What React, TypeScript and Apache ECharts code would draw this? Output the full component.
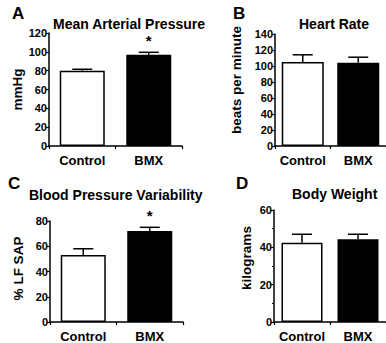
import React, { useEffect, useRef } from "react";
import * as echarts from "echarts";

const categories = ["Control", "BMX"];

const panelLetters = ["A", "B", "C", "D"];
const panelTitles = ["Mean Arterial Pressure", "Heart Rate", "Blood Pressure Variability", "Body Weight"];
const yNames = ["mmHg", "beats per minute", "% LF SAP", "kilograms"];
const yMax = [120, 140, 80, 60];

const mapMeans = [80, 97];
const mapErrors = [1.5, 2.5];
const hrMeans = [105, 104];
const hrErrors = [9, 7];
const bpvMeans = [53, 72];
const bpvErrors = [5, 3];
const bwMeans = [42.5, 44.3];
const bwErrors = [4.5, 2.7];

const meansByPanel = [mapMeans, hrMeans, bpvMeans, bwMeans];
const errorsByPanel = [mapErrors, hrErrors, bpvErrors, bwErrors];
const significance = [
  ["", "*"],
  ["", ""],
  ["", "*"],
  ["", ""],
];

const FONT = "'Liberation Sans', Arial, Helvetica, sans-serif";

const grids = [
  { left: 49, top: 33, width: 133, height: 113 },
  { left: 275, top: 34, width: 122, height: 112 },
  { left: 50, top: 221, width: 133, height: 102 },
  { left: 274, top: 210, width: 122, height: 113 },
];
const barWidths = [45, 42, 45, 41];
const nameGaps = [24, 32, 25, 21];
const namePads: number[][] = [
  [0, 0, 0, 0],
  [0, 0, 0, 20],
  [0, 0, 0, 6],
  [0, 0, 0, 16],
];
const titlePos = [
  { left: 53, top: 17 },
  { left: 299, top: 17 },
  { left: 29, top: 188 },
  { left: 292, top: 187 },
];
const letterPos = [
  { left: 12, top: 5 },
  { left: 233, top: 5 },
  { left: 8, top: 175 },
  { left: 236, top: 175 },
];

export default function App() {
  const ref = useRef<HTMLDivElement>(null);
  useEffect(() => {
    document.body.style.margin = "0";
    if (!ref.current) return;
    const chart = echarts.init(ref.current, undefined, { renderer: "svg" });

    const axisLine = { show: true, lineStyle: { color: "#000", width: 1.5 } };

    const option: any = {
      animation: false,
      backgroundColor: "#fff",
      title: [
        ...panelTitles.map((t, i) => ({
          text: t,
          left: titlePos[i].left,
          top: titlePos[i].top,
          padding: 0,
          textStyle: { fontFamily: FONT, fontWeight: "bold", fontSize: 14, color: "#000" },
        })),
        ...panelLetters.map((t, i) => ({
          text: t,
          left: letterPos[i].left,
          top: letterPos[i].top,
          padding: 0,
          textStyle: { fontFamily: FONT, fontWeight: "bold", fontSize: 17, color: "#000" },
        })),
      ],
      grid: grids.map((g) => ({ ...g, containLabel: false })),
      xAxis: grids.map((_, i) => ({
        type: "category",
        gridIndex: i,
        data: categories,
        boundaryGap: true,
        axisLine,
        axisTick: {
          show: true,
          length: 3,
          lineStyle: { color: "#000", width: 1.2 },
          interval: 0,
        },
        axisLabel: {
          interval: 0,
          hideOverlap: false,
          showMaxLabel: true,
          margin: 8,
          fontFamily: FONT,
          fontWeight: "bold",
          fontSize: 13,
          color: "#000",
        },
        splitLine: { show: false },
      })),
      yAxis: grids.map((_, i) => ({
        type: "value",
        gridIndex: i,
        min: 0,
        max: yMax[i],
        interval: 20,
        name: yNames[i],
        nameLocation: "middle",
        nameGap: nameGaps[i],
        nameRotate: 90,
        nameTextStyle: {
          fontFamily: FONT,
          fontWeight: "bold",
          fontSize: 13.5,
          color: "#000",
          padding: namePads[i],
        },
        axisLine,
        axisTick: { show: true, length: 3, lineStyle: { color: "#000", width: 1.2 } },
        minorTick: i === 3 ? { show: true, splitNumber: 2, length: 2, lineStyle: { color: "#000", width: 1 } } : { show: false },
        axisLabel: {
          margin: 2,
          fontFamily: FONT,
          fontWeight: "bold",
          fontSize: 11,
          color: "#000",
        },
        splitLine: { show: false },
      })),
      series: [
        ...meansByPanel.map((means, i) => ({
          type: "bar",
          xAxisIndex: i,
          yAxisIndex: i,
          barWidth: barWidths[i],
          data: means.map((v, j) => ({
            value: v,
            itemStyle: {
              color: j === 0 ? "#fff" : "#000",
              borderColor: "#000",
              borderWidth: 1.5,
            },
          })),
          z: 2,
        })),
        ...meansByPanel.map((means, i) => ({
          type: "custom",
          xAxisIndex: i,
          yAxisIndex: i,
          clip: false,
          z: 3,
          data: means.map((v, j) => [j, v, errorsByPanel[i][j]]),
          renderItem: (params: any, api: any) => {
            const idx = api.value(0);
            const mean = api.value(1);
            const err = api.value(2);
            const base = api.coord([idx, mean]);
            const top = api.coord([idx, mean + err]);
            const color = "#000";
            const star = significance[i][params.dataIndex];
            const children: any[] = [
              {
                type: "line",
                shape: { x1: base[0], y1: base[1], x2: top[0], y2: top[1] },
                style: { stroke: color, lineWidth: 1.5 },
              },
              {
                type: "line",
                shape: { x1: top[0] - 10, y1: top[1], x2: top[0] + 10, y2: top[1] },
                style: { stroke: color, lineWidth: 1.5 },
              },
            ];
            if (star) {
              children.push({
                type: "text",
                x: top[0],
                y: top[1] - 4,
                style: {
                  text: star,
                  fill: "#000",
                  font: `bold 15px ${FONT}`,
                  align: "center",
                  verticalAlign: "bottom",
                },
              });
            }
            return { type: "group", children };
          },
        })),
      ],
    };
    chart.setOption(option);
    return () => chart.dispose();
  }, []);
  return <div ref={ref} style={{ width: 386, height: 343 }} />;
}
